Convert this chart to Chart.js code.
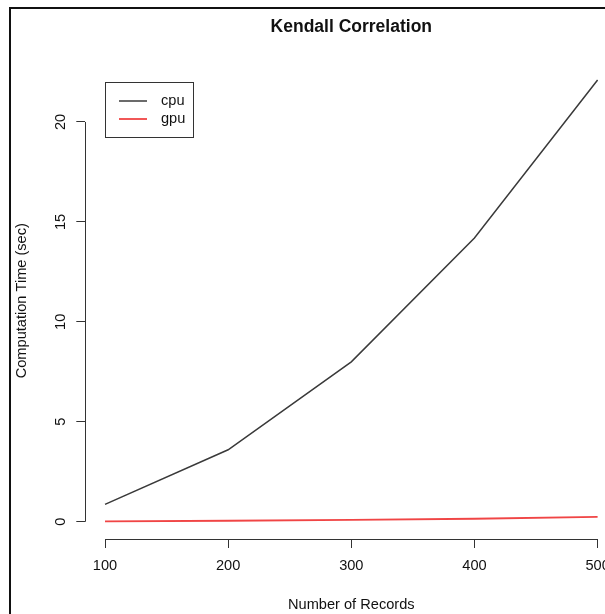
<!DOCTYPE html>
<html>
<head>
<meta charset="utf-8">
<script src="https://cdn.jsdelivr.net/npm/chart.js@4.4.1/dist/chart.umd.min.js"></script>
<style>
    html, body { margin: 0; padding: 0; background: #fff; overflow: hidden; }
    #wrap { position: relative; width: 605px; height: 614px; overflow: hidden; }
    #frame {
        position: absolute; left: 9px; top: 7px; width: 700px; height: 700px;
        border-left: 2px solid #111; border-top: 2px solid #111; pointer-events: none;
    }
    canvas { position: absolute; left: 0; top: 0; }
</style>
</head>
<body>
<div id="wrap">
    <canvas id="kendallChart" width="640" height="614"></canvas>
    <div id="frame"></div>
</div>
<script>
// datos
const registros = [100, 200, 300, 400, 500];
const tiemposCpu = [0.87, 3.6, 8.0, 14.2, 22.1];
const tiemposGpu = [0.02, 0.05, 0.09, 0.15, 0.24];
const ticksX = [100, 200, 300, 400, 500];
const ticksY = [0, 5, 10, 15, 20];

const fuente = '"Liberation Sans", Arial, Helvetica, sans-serif';
const colorEje = '#333';

/**
 * Dibuja las lineas de los ejes solo entre el primer y el ultimo tick (estilo R).
 */
const ejesR = {
    id: 'ejesR',
    afterDraw(chart) {
        const { ctx, scales: { x, y }, chartArea } = chart;
        ctx.save();
        ctx.strokeStyle = colorEje;
        ctx.lineWidth = 1;
        ctx.beginPath();
        const yb = Math.round(chartArea.bottom) + 0.5;
        ctx.moveTo(x.getPixelForValue(ticksX[0]), yb);
        ctx.lineTo(x.getPixelForValue(ticksX[ticksX.length - 1]), yb);
        const xl = Math.round(chartArea.left) + 0.5;
        ctx.moveTo(xl, y.getPixelForValue(ticksY[0]));
        ctx.lineTo(xl, y.getPixelForValue(ticksY[ticksY.length - 1]));
        ctx.stroke();
        ctx.restore();
    }
};

/**
 * Leyenda en caja dentro del area de la grafica, anclada en (100, 22).
 */
const leyendaCaja = {
    id: 'leyendaCaja',
    afterDatasetsDraw(chart) {
        const { ctx, scales: { x, y } } = chart;
        const left = Math.round(x.getPixelForValue(100));
        const top = Math.round(y.getPixelForValue(22));
        ctx.save();
        ctx.strokeStyle = colorEje;
        ctx.lineWidth = 1;
        ctx.strokeRect(left + 0.5, top + 0.5, 88, 55);
        ctx.font = '14.6px ' + fuente;
        ctx.textBaseline = 'middle';
        ctx.fillStyle = '#111';
        chart.data.datasets.forEach((ds, i) => {
            const ly = top + 19 + i * 18;
            ctx.strokeStyle = ds.borderColor;
            ctx.lineWidth = ds.borderWidth;
            ctx.beginPath();
            ctx.moveTo(left + 14, ly);
            ctx.lineTo(left + 42, ly);
            ctx.stroke();
            ctx.fillText(ds.label, left + 56, ly);
        });
        ctx.restore();
    }
};

function generarGraficaKendall() {
    const ctx = document.getElementById('kendallChart').getContext('2d');
    return new Chart(ctx, {
        type: 'line',
        data: {
            datasets: [{
                label: 'cpu',
                data: registros.map((r, i) => ({ x: r, y: tiemposCpu[i] })),
                borderColor: '#3a3a3a',
                borderWidth: 1.5,
                pointRadius: 0,
                tension: 0
            }, {
                label: 'gpu',
                data: registros.map((r, i) => ({ x: r, y: tiemposGpu[i] })),
                borderColor: '#f04545',
                borderWidth: 1.8,
                pointRadius: 0,
                tension: 0
            }]
        },
        options: {
            responsive: false,
            animation: false,
            devicePixelRatio: 1,
            layout: { padding: { left: 0, right: 22.7, top: 0, bottom: 0 } },
            plugins: {
                legend: { display: false },
                tooltip: { enabled: false },
                title: {
                    display: true,
                    fullSize: false,
                    text: 'Kendall Correlation',
                    color: '#111',
                    font: { family: fuente, size: 17.5, weight: 'bold' },
                    padding: { top: 17, bottom: 24.4 }
                }
            },
            scales: {
                x: {
                    type: 'linear',
                    min: 84,
                    max: 516,
                    afterBuildTicks: s => { s.ticks = ticksX.map(v => ({ value: v })); },
                    afterFit: s => { s.height = 75; },
                    border: { display: false },
                    grid: { drawOnChartArea: false, tickLength: 9, color: colorEje },
                    ticks: {
                        color: '#111',
                        font: { family: fuente, size: 14.6 },
                        padding: 9,
                        maxRotation: 0,
                        autoSkip: false
                    },
                    title: {
                        display: true,
                        text: 'Number of Records',
                        color: '#111',
                        font: { family: fuente, size: 14.6 },
                        padding: { top: 0, bottom: 0 }
                    }
                },
                y: {
                    type: 'linear',
                    min: -0.863,
                    max: 22.98,
                    afterBuildTicks: s => { s.ticks = ticksY.map(v => ({ value: v })); },
                    afterFit: s => { s.width = 85.3; },
                    border: { display: false },
                    grid: { drawOnChartArea: false, tickLength: 9, color: colorEje },
                    ticks: {
                        color: '#111',
                        font: { family: fuente, size: 14.6 },
                        padding: 7,
                        minRotation: 90,
                        maxRotation: 90,
                        crossAlign: 'center',
                        autoSkip: false
                    },
                    title: {
                        display: true,
                        text: 'Computation Time (sec)',
                        color: '#111',
                        font: { family: fuente, size: 14.6 },
                        padding: { top: 13, bottom: 0 }
                    }
                }
            }
        },
        plugins: [ejesR, leyendaCaja]
    });
}

generarGraficaKendall();
</script>
</body>
</html>
